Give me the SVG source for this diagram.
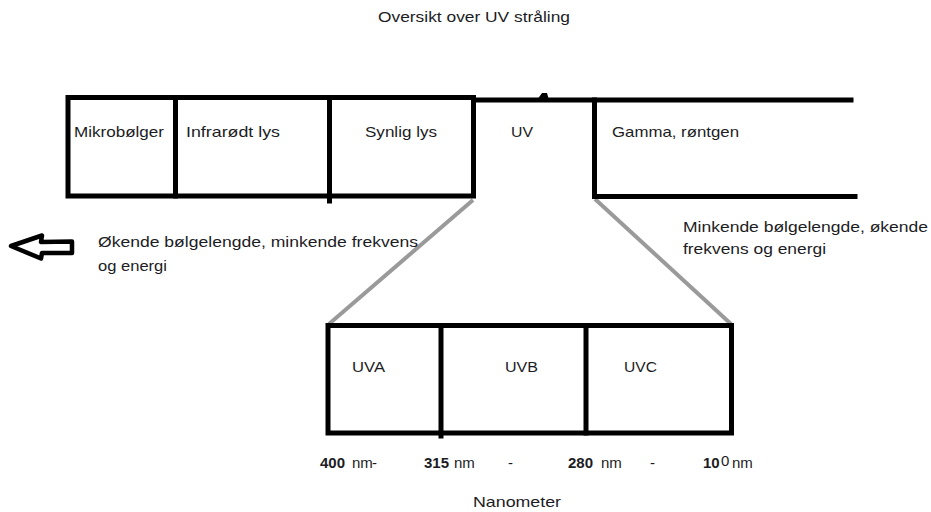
<svg xmlns="http://www.w3.org/2000/svg" width="931" height="512" viewBox="0 0 931 512">
<style>
.t{font-family:"Liberation Sans",Arial,sans-serif;font-size:15px;fill:#1c1c24}
.b{font-weight:bold}
.ln{stroke:#000;stroke-width:5;fill:none;stroke-linecap:square}
.gr{stroke:#9a9a9a;stroke-width:4;fill:none}
</style>
<rect width="931" height="512" fill="#fff"/>
<text id="title" class="t" x="378" y="22" textLength="192" lengthAdjust="spacingAndGlyphs">Oversikt over UV stråling</text>

<g id="connectors">
<line class="gr" x1="473" y1="200" x2="329" y2="324"/>
<line class="gr" x1="595" y1="199" x2="731" y2="324"/>
</g>

<g id="spectrum">
<rect class="ln" x="68" y="97.5" width="405.5" height="98.5"/>
<line class="ln" x1="175.5" y1="97.5" x2="175.5" y2="196"/>
<line class="ln" x1="329.5" y1="97.5" x2="329.5" y2="201"/>
<text class="t" x="74" y="137" textLength="90" lengthAdjust="spacingAndGlyphs">Mikrobølger</text>
<text class="t" x="186" y="137" textLength="94" lengthAdjust="spacingAndGlyphs">Infrarødt lys</text>
<text class="t" x="365" y="137" textLength="72" lengthAdjust="spacingAndGlyphs">Synlig lys</text>
</g>

<g id="uv-band">
<path class="ln" d="M474 100 H851"/>
<path d="M537 100 L542 93 L547 93 L549 100 Z" fill="#000"/>
<path class="ln" d="M594.5 100 V196.5 H855" stroke-linecap="butt"/>
<text class="t" x="511" y="137" textLength="22" lengthAdjust="spacingAndGlyphs">UV</text>
<text class="t" x="612" y="137" textLength="127" lengthAdjust="spacingAndGlyphs">Gamma, røntgen</text>
</g>

<g id="uv-box">
<rect class="ln" x="328" y="325.5" width="403.5" height="107.5"/>
<line class="ln" x1="441" y1="325.5" x2="441" y2="436"/>
<line class="ln" x1="586" y1="325.5" x2="586" y2="433"/>
<text class="t" x="352" y="372" textLength="33" lengthAdjust="spacingAndGlyphs">UVA</text>
<text class="t" x="505" y="372" textLength="33" lengthAdjust="spacingAndGlyphs">UVB</text>
<text class="t" x="624" y="372" textLength="33" lengthAdjust="spacingAndGlyphs">UVC</text>
</g>

<g id="arrow">
<path d="M11 246 L42 235.5 L41 242 L72 241.5 L72 253 L42 253 L41 258.5 Z" fill="#fff" stroke="#000" stroke-width="4.5" stroke-linejoin="round"/>
</g>

<g id="labels">
<text class="t" x="98" y="247" textLength="320" lengthAdjust="spacingAndGlyphs">Økende bølgelengde, minkende frekvens</text>
<text class="t" x="98" y="271" textLength="69" lengthAdjust="spacingAndGlyphs">og energi</text>
<text class="t" x="683" y="232" textLength="245" lengthAdjust="spacingAndGlyphs">Minkende bølgelengde, økende</text>
<text class="t" x="683" y="254" textLength="143" lengthAdjust="spacingAndGlyphs">frekvens og energi</text>
<text class="t b" x="320" y="468">400</text>
<text class="t" x="352" y="468">nm</text>
<text class="t" x="372" y="468">-</text>
<text class="t b" x="424" y="468">315</text>
<text class="t" x="454" y="468">nm</text>
<text class="t" x="508" y="468">-</text>
<text class="t b" x="568" y="468">280</text>
<text class="t" x="601" y="468">nm</text>
<text class="t" x="650" y="468">-</text>
<text class="t b" x="703" y="468">10</text>
<text class="t" x="721" y="466">0</text>
<text class="t" x="732" y="468">nm</text>
<text class="t" x="473" y="507" textLength="88" lengthAdjust="spacingAndGlyphs">Nanometer</text>
</g>
</svg>
